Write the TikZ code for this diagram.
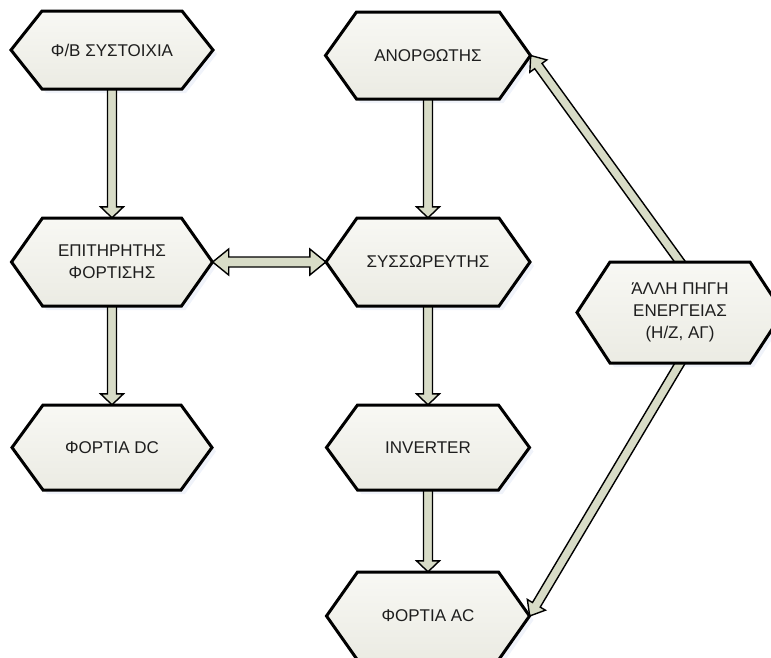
\documentclass[tikz,border=0pt]{standalone}
\usepackage{fontspec}
\setmainfont{Liberation Sans}
\usetikzlibrary{calc}

\definecolor{hextop}{RGB}{248,248,244}
\definecolor{hexbot}{RGB}{235,235,227}
\definecolor{linkfill}{RGB}{216,220,199}
\definecolor{shadowfill}{RGB}{240,243,250}
\definecolor{labeltext}{RGB}{30,30,30}

\pgfdeclarelayer{shade}
\pgfdeclarelayer{links}
\pgfsetlayers{shade,links,main}

\tikzset{
  hexline/.style={draw=black, line width=3pt, line join=miter,
                  top color=hextop, bottom color=hexbot},
  hexlabel/.style={inner sep=0pt, align=center, text=labeltext,
                   font=\fontsize{17}{22}\selectfont},
  link/.style={draw=black, line width=1.4pt, line join=miter, fill=linkfill}
}

% outline of a hexagon pointed left and right: cx, cy, width, height, inset
\newcommand\hexpath[5]{({#1-#3/2},#2) -- ({#1-#3/2+#5},{#2-#4/2}) -- ({#1+#3/2-#5},{#2-#4/2})
  -- ({#1+#3/2},#2) -- ({#1+#3/2-#5},{#2+#4/2}) -- ({#1-#3/2+#5},{#2+#4/2}) -- cycle}

% [inset] name, cx, cy, width, height, text
\newcommand\hexbox[7][31]{%
  \begin{pgfonlayer}{shade}
    \fill[shadowfill, shift={(4pt,-4pt)}] \hexpath{#3}{#4}{#5}{#6}{#1};
  \end{pgfonlayer}
  \path[hexline] \hexpath{#3}{#4}{#5}{#6}{#1};
  \node[hexlabel, minimum width=#5pt, minimum height=#6pt] (#2) at (#3,#4) {#7};
}

% hollow block arrow: from, to, shaft half-width, head half-width, head length
\newcommand\blockarr[5]{%
  \begin{pgfonlayer}{links}
  \path ($(#1)!-8pt!(#2)$) coordinate (ba-s) (#2) coordinate (ba-e);
  \pgfpointdiff{\pgfpointanchor{ba-s}{center}}{\pgfpointanchor{ba-e}{center}}%
  \pgfgetlastxy{\badx}{\bady}%
  \pgfmathsetmacro\balen{veclen(\badx,\bady)}%
  \pgfmathsetmacro\baang{atan2(\bady,\badx)}%
  \pgfmathsetmacro\baneck{\balen-#5}%
  \draw[link, shift={(ba-s)}, rotate=\baang]
    (0pt,#3pt) -- (\baneck pt,#3pt) -- (\baneck pt,#4pt) -- (\balen pt,0pt)
    -- (\baneck pt,-#4pt) -- (\baneck pt,-#3pt) -- (0pt,-#3pt) -- cycle;
  \end{pgfonlayer}
}

% hollow block arrow with a head at both ends
\newcommand\dblockarr[5]{%
  \begin{pgfonlayer}{links}
  \path (#1) coordinate (ba-s) (#2) coordinate (ba-e);
  \pgfpointdiff{\pgfpointanchor{ba-s}{center}}{\pgfpointanchor{ba-e}{center}}%
  \pgfgetlastxy{\badx}{\bady}%
  \pgfmathsetmacro\balen{veclen(\badx,\bady)}%
  \pgfmathsetmacro\baang{atan2(\bady,\badx)}%
  \pgfmathsetmacro\baneck{\balen-#5}%
  \draw[link, shift={(ba-s)}, rotate=\baang]
    (0pt,0pt) -- (#5pt,#4pt) -- (#5pt,#3pt) -- (\baneck pt,#3pt) -- (\baneck pt,#4pt)
    -- (\balen pt,0pt) -- (\baneck pt,-#4pt) -- (\baneck pt,-#3pt) -- (#5pt,-#3pt)
    -- (#5pt,-#4pt) -- cycle;
  \end{pgfonlayer}
}

\begin{document}
\begin{tikzpicture}[x=1pt, y=-1pt]
\useasboundingbox (0,0) rectangle (771,657);

% left column
\hexbox{pv}{112}{50}{202}{78}{Φ/Β ΣΥΣΤΟΙΧΙΑ}
\hexbox{reg}{112}{262}{201}{88}{ΕΠΙΤΗΡΗΤΗΣ\\ΦΟΡΤΙΣΗΣ}
\hexbox{dc}{112}{447.5}{200}{85}{ΦΟΡΤΙΑ DC}

% middle column
\hexbox{rect}{428}{55.5}{205}{87}{ΑΝΟΡΘΩΤΗΣ}
\hexbox{bat}{428}{262}{204}{88}{ΣΥΣΣΩΡΕΥΤΗΣ}
\hexbox{inv}{428}{447.5}{203}{85}{INVERTER}
\hexbox{ac}{428}{616}{203}{88}{ΦΟΡΤΙΑ AC}

% other source
\hexbox[33]{alt}{680}{312.5}{206}{101}{ΆΛΛΗ ΠΗΓΗ\\ΕΝΕΡΓΕΙΑΣ\\(Η/Ζ, ΑΓ)}

% connections
\blockarr{pv.south}{reg.north}{4.5}{11.5}{11}
\blockarr{reg.south}{dc.north}{4.5}{11.5}{11}
\blockarr{rect.south}{bat.north}{4.5}{11.5}{11}
\blockarr{bat.south}{inv.north}{4.5}{11.5}{11}
\blockarr{inv.south}{ac.north}{4.5}{11.5}{11}
\dblockarr{reg.east}{bat.west}{5}{13}{16}
\blockarr{alt.north}{rect.east}{4.5}{10.5}{13}
\blockarr{alt.south}{ac.east}{4.5}{10.5}{13}
\end{tikzpicture}
\end{document}
